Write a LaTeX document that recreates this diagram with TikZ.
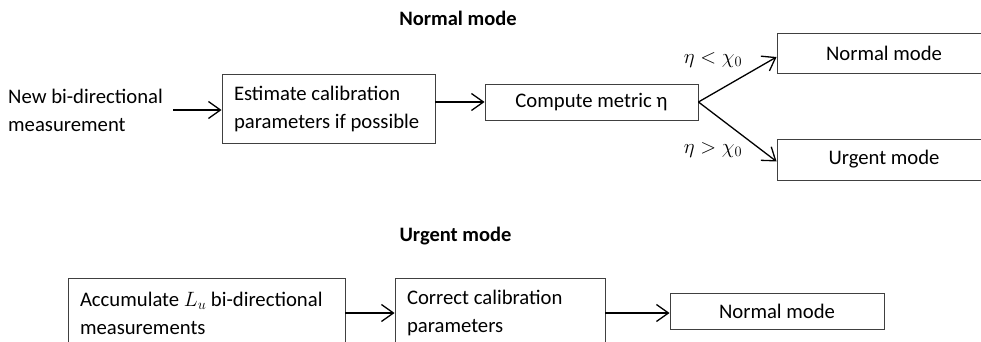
\documentclass[tikz,border=0pt]{standalone}
\usepackage{amsmath, amsfonts, amssymb}
\usepackage{fontspec}
\setmainfont{Carlito}
\usetikzlibrary{arrows.meta}

\tikzset{
	modebox/.style={draw=black!75, line width=0.9pt, inner xsep=12pt, inner ysep=0pt, align=flush left},
	flow/.style={->, >={Straight Barb[length=12pt, width=17pt, line width=1.3pt]}, line width=1.3pt},
	title/.style={font=\fontsize{20.5}{24}\selectfont\bfseries},
}

\begin{document}
\begin{tikzpicture}[x=1pt, y=-1pt, font=\fontsize{20.7}{28}\selectfont]
		\clip (0, 0) rectangle (981, 342);
		\node[title] (nmtitle) at (458, 18) {Normal mode};
		\node[align=left, anchor=west, inner xsep=4pt] (newmeas) at (4, 110) {New bi-directional\\measurement};
		\node[modebox, text width=189pt, minimum height=69pt] (estim) at (328.5, 108.5) {Estimate calibration\\parameters if possible};
		\node[modebox, minimum width=213pt, minimum height=36pt, align=center] (metric) at (591.5, 102) {Compute metric η};
		\node[modebox, minimum width=214pt, minimum height=40pt, align=center] (nrmtop) at (884, 53) {Normal mode};
		\node[modebox, minimum width=214pt, minimum height=41pt, align=center] (urgtop) at (884, 159.5) {Urgent mode};
		\node[font=\fontsize{21.5}{24}\selectfont] (lesslbl) at (713, 60) {$\eta < \chi_0$};
		\node[font=\fontsize{21.5}{24}\selectfont] (morelbl) at (713, 150) {$\eta > \chi_0$};
		\draw[flow, shorten <=6pt] (newmeas.east) -- (estim.west |- newmeas.east);
		\draw[flow] (estim.east |- metric.west) -- (metric.west);
		\draw[flow] (metric.east) -- ([yshift=-4pt]nrmtop.west);
		\draw[flow] (metric.east) -- ([yshift=-2pt]urgtop.west);

		\node[title] (urgtitle) at (455.5, 236) {Urgent mode};
		\node[modebox, text width=253pt, minimum height=70pt] (accum) at (206.5, 313) {Accumulate $L_u$ bi-directional\\measurements};
		\node[modebox, text width=186pt, minimum height=70pt] (correct) at (500, 313) {Correct calibration\\parameters};
		\node[modebox, minimum width=214pt, minimum height=36pt, align=center] (nrmbot) at (777, 311) {Normal mode};
		\draw[flow] (accum.east) -- (correct.west);
		\draw[flow] (correct.east) -- (nrmbot.west |- correct.east);
\end{tikzpicture}
\end{document}
